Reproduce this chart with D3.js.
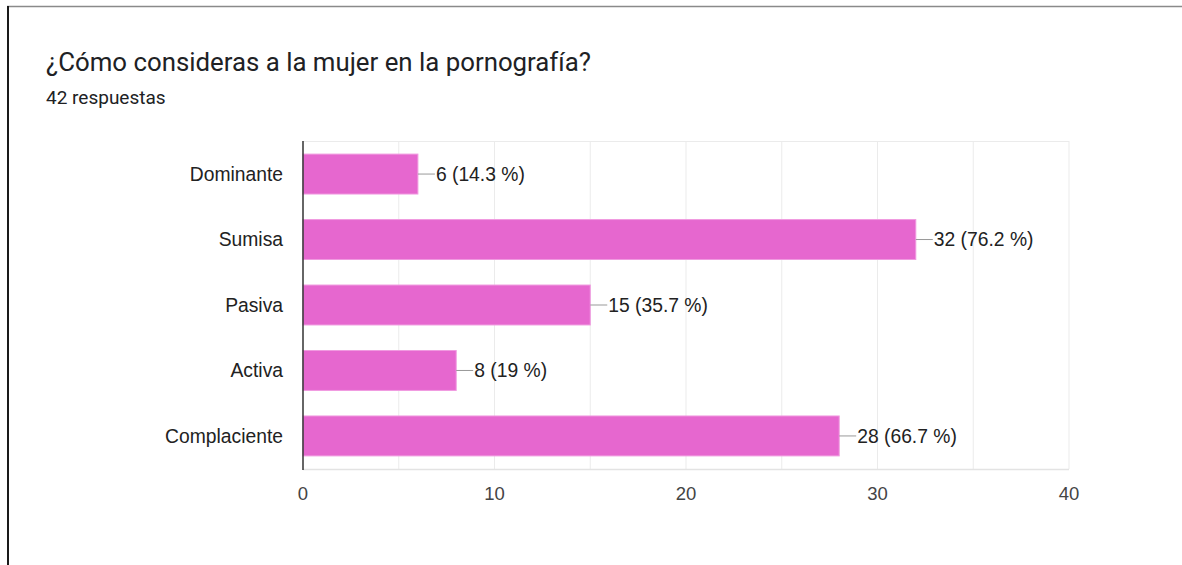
<!DOCTYPE html>
<html>
<head>
<meta charset="utf-8">
<script src="https://cdn.jsdelivr.net/npm/d3@7"></script>
<style>
  html, body { margin: 0; padding: 0; background: #fff; }
  svg { display: block; }
</style>
</head>
<body>
<svg id="chart" width="1182" height="565"></svg>
<script>
// Survey answers: how the woman is perceived in pornography
const categories = ["Dominante", "Sumisa", "Pasiva", "Activa", "Complaciente"];
const counts = [6, 32, 15, 8, 28];
const percentLabels = ["14.3 %", "76.2 %", "35.7 %", "19 %", "66.7 %"];
const xTicks = [0, 10, 20, 30, 40];
const gridValues = [5, 10, 15, 20, 25, 30, 35, 40];

const svg = d3.select("#chart");
const headFont = "Roboto, sans-serif";
const font = "'Liberation Sans', Arial, sans-serif";

// card frame
svg.append("line").attr("x1", 7).attr("x2", 1182).attr("y1", 6.5).attr("y2", 6.5)
  .attr("stroke", "#8a8a8a").attr("stroke-width", 1.5);
svg.append("line").attr("x1", 8).attr("x2", 8).attr("y1", 6).attr("y2", 565)
  .attr("stroke", "#1a1a1a").attr("stroke-width", 2);

svg.append("text").attr("x", 46).attr("y", 71)
  .attr("font-family", headFont).attr("font-size", 25.8).attr("fill", "#202124")
  .text("¿Cómo consideras a la mujer en la pornografía?");
svg.append("text").attr("x", 46).attr("y", 104)
  .attr("font-family", headFont).attr("font-size", 19).attr("fill", "#202124")
  .text("42 respuestas");

const plotLeft = 303, plotRight = 1069, plotTop = 141, plotBottom = 469;
const x = d3.scaleLinear().domain([0, 40]).range([plotLeft, plotRight]);
const y = d3.scaleBand().domain(categories).range([plotTop, plotBottom]).paddingInner(0.39).paddingOuter(0.2);

// gridlines
svg.append("g").selectAll("line").data(gridValues).join("line")
  .attr("x1", d => x(d)).attr("x2", d => x(d)).attr("y1", plotTop).attr("y2", plotBottom)
  .attr("stroke", "#ebebeb").attr("stroke-width", 1);
svg.append("line").attr("x1", plotLeft).attr("x2", plotRight).attr("y1", plotTop + 0.5).attr("y2", plotTop + 0.5)
  .attr("stroke", "#ebebeb");
svg.append("line").attr("x1", plotLeft).attr("x2", plotRight).attr("y1", plotBottom + 0.5).attr("y2", plotBottom + 0.5)
  .attr("stroke", "#e3e3e3").attr("stroke-width", 1.5);

// bars
svg.append("g").selectAll("rect").data(categories).join("rect")
  .attr("x", x(0)).attr("y", d => y(d))
  .attr("width", (d, i) => x(counts[i]) - x(0)).attr("height", y.bandwidth())
  .attr("fill", "#e667cf").attr("stroke", "#f09ae0").attr("stroke-width", 1);

// leader lines and value labels
const lab = svg.append("g").selectAll("g").data(categories).join("g");
lab.append("line")
  .attr("x1", (d, i) => x(counts[i])).attr("x2", (d, i) => x(counts[i]) + 17)
  .attr("y1", d => y(d) + y.bandwidth() / 2).attr("y2", d => y(d) + y.bandwidth() / 2)
  .attr("stroke", "#999").attr("stroke-width", 1);
lab.append("text")
  .attr("x", (d, i) => x(counts[i]) + 18).attr("y", d => y(d) + y.bandwidth() / 2)
  .attr("dy", "0.36em").attr("font-family", font).attr("font-size", 19.3).attr("fill", "#222")
  .text((d, i) => `${counts[i]} (${percentLabels[i]})`);

// category axis
svg.append("line").attr("x1", plotLeft).attr("x2", plotLeft).attr("y1", plotTop).attr("y2", plotBottom + 1)
  .attr("stroke", "#333").attr("stroke-width", 1.5);
svg.append("g").selectAll("text").data(categories).join("text")
  .attr("x", plotLeft - 20).attr("y", d => y(d) + y.bandwidth() / 2).attr("dy", "0.36em")
  .attr("text-anchor", "end").attr("font-family", font).attr("font-size", 19.3).attr("fill", "#222")
  .text(d => d);

// value axis labels
svg.append("g").selectAll("text").data(xTicks).join("text")
  .attr("x", d => x(d)).attr("y", 500).attr("text-anchor", "middle")
  .attr("font-family", font).attr("font-size", 18.5).attr("fill", "#444")
  .text(d => d);
</script>
</body>
</html>
